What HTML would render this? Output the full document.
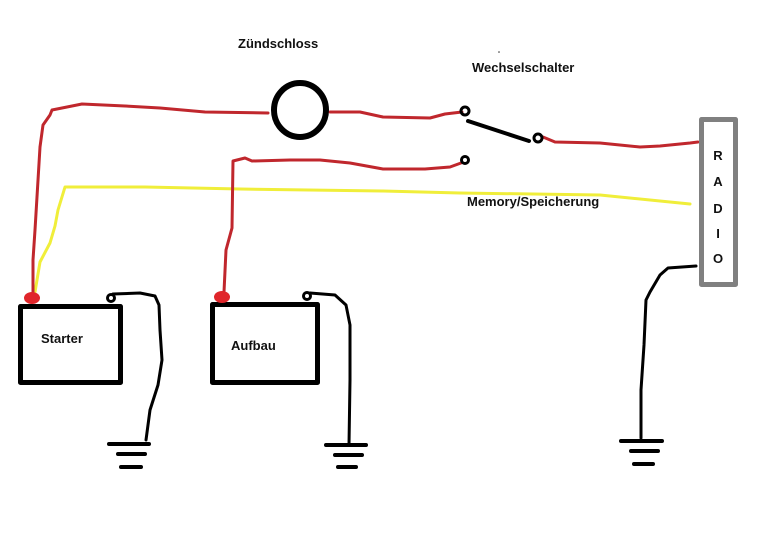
<!DOCTYPE html>
<html><head><meta charset="utf-8"><style>
html,body{margin:0;padding:0;background:#fff;}
svg{display:block;}
text{font-family:"Liberation Sans",sans-serif;font-weight:bold;font-size:13px;fill:#111;}
</style></head><body>
<svg width="766" height="538" viewBox="0 0 766 538" xmlns="http://www.w3.org/2000/svg">
<g fill="none" stroke-linecap="round" stroke-linejoin="round">
<!-- yellow -->
<polyline stroke="#f0ee3a" stroke-width="3" points="35,292 40,262 50,243 55,226 58,210 65,187 145,187 240,189 383,191 460,193 600,195 690,204"/>
<!-- red 1 -->
<polyline stroke="#c0272d" stroke-width="3" points="33,293 33,260 35,230 40,147 43,125 50,115 52,110 82,104 125,106 160,108 205,112 268,113"/>
<polyline stroke="#c0272d" stroke-width="3" points="330,112 360,112 383,117 430,118 445,114 462,112"/>
<polyline stroke="#c0272d" stroke-width="3" points="543,137 555,142 600,143 640,147 660,146 690,143 698,142"/>
<!-- red 2 -->
<polyline stroke="#c0272d" stroke-width="3" points="224,292 226,250 232,228 233,161 245,158 252,161 290,160 320,160 350,163 383,169 425,169 450,167 461,163"/>
<!-- ignition circle -->
<ellipse cx="300" cy="110" rx="26" ry="27" stroke="#000" stroke-width="6"/>
<!-- switch -->
<circle cx="465" cy="111" r="4" stroke="#000" stroke-width="3"/>
<circle cx="538" cy="138" r="4" stroke="#000" stroke-width="3"/>
<circle cx="465" cy="160" r="3.5" stroke="#000" stroke-width="3"/>
<line x1="468" y1="121" x2="529" y2="141" stroke="#000" stroke-width="4"/>
<!-- radio -->
<rect x="701.5" y="119.5" width="34" height="165" stroke="#808080" stroke-width="5"/>
<!-- batteries -->
<rect x="20.5" y="306.5" width="100" height="76" stroke="#000" stroke-width="5"/>
<rect x="212.5" y="304.5" width="105" height="78" stroke="#000" stroke-width="5"/>
<!-- black wires -->
<circle cx="111" cy="298" r="3.5" stroke="#000" stroke-width="3"/>
<polyline stroke="#000" stroke-width="3" points="113,294 140,293 155,296 159,305 160,330 162,360 158,385 150,410 146,440"/>
<circle cx="307" cy="296" r="3.5" stroke="#000" stroke-width="3"/>
<polyline stroke="#000" stroke-width="3" points="310,293 335,295 346,305 350,325 350,380 349,445"/>
<polyline stroke="#000" stroke-width="3" points="696,266 668,268 660,275 650,292 646,300 644,345 641,390 641,438"/>
<!-- grounds -->
<g stroke="#000" stroke-width="4">
<line x1="109" y1="444" x2="149" y2="444"/><line x1="118" y1="454" x2="145" y2="454"/><line x1="121" y1="467" x2="141" y2="467"/>
<line x1="326" y1="445" x2="366" y2="445"/><line x1="335" y1="455" x2="362" y2="455"/><line x1="338" y1="467" x2="356" y2="467"/>
<line x1="621" y1="441" x2="662" y2="441"/><line x1="631" y1="451" x2="658" y2="451"/><line x1="634" y1="464" x2="653" y2="464"/>
</g>
</g>
<!-- red terminals -->
<ellipse cx="32" cy="298" rx="8" ry="6" fill="#e0262b"/>
<ellipse cx="222" cy="297" rx="8" ry="6" fill="#e0262b"/>
<circle cx="499" cy="52" r="0.8" fill="#333"/>
<text x="238" y="48">Zündschloss</text>
<text x="472" y="72">Wechselschalter</text>
<text x="467" y="206">Memory/Speicherung</text>
<text x="41" y="343">Starter</text>
<text x="231" y="350">Aufbau</text>
<g text-anchor="middle">
<text x="718" y="160">R</text>
<text x="718" y="186">A</text>
<text x="718" y="213">D</text>
<text x="718" y="238">I</text>
<text x="718" y="263">O</text>
</g>
</svg>
</body></html>
